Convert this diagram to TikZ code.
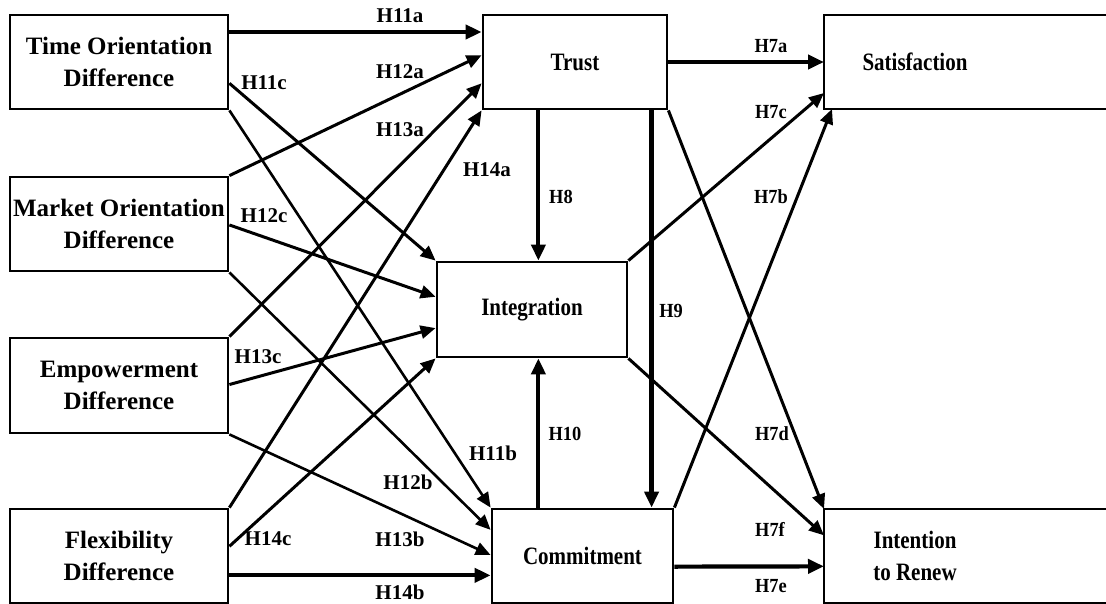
\documentclass[tikz,border=0pt]{standalone}
\usepackage{fontspec}
\setmainfont{Liberation Serif}
\newfontfamily\narrowserif{Liberation Serif}[FakeStretch=0.84]
\newfontfamily\labelserif{Liberation Serif}[FakeStretch=0.92]
\usetikzlibrary{arrows.meta,calc}

\tikzset{
  leftbox/.style={draw, line width=2.8pt, minimum width=218, minimum height=94,
    align=center, inner sep=0pt, outer sep=1.4pt,
    font=\fontsize{25}{32}\selectfont\bfseries},
  midbox/.style={draw, line width=2.8pt, minimum height=94,
    align=center, inner sep=0pt, outer sep=1.4pt,
    font=\fontsize{25}{32}\selectfont\narrowserif\bfseries},
  openbox/.style={draw=none, minimum width=182, minimum height=94,
    align=center, inner sep=0pt, outer sep=0pt,
    font=\fontsize{25}{32}\selectfont\narrowserif\bfseries},
  boxline/.style={line width=2.8pt},
  hypl/.style={inner sep=0pt, font=\fontsize{21}{21}\selectfont\bfseries},
  hypr/.style={inner sep=0pt, font=\fontsize{20}{20}\selectfont\labelserif\bfseries},
  heavy/.style={line width=4.2pt, -{Triangle[length=16pt,width=14pt]}},
  light/.style={line width=3pt, -{Triangle[length=15pt,width=13pt]}},
  lighter/.style={line width=2.6pt, -{Triangle[length=15pt,width=13pt]}}
}

\begin{document}
\begin{tikzpicture}[x=1pt,y=-1pt]
\useasboundingbox (0,0) rectangle (1106,603);

% constructs
\node[leftbox] (tod) at (119,62) {Time Orientation\\Difference};
\node[leftbox] (mod) at (119,224) {Market Orientation\\Difference};
\node[leftbox, minimum height=95] (emp) at (119,385.5) {Empowerment\\Difference};
\node[leftbox] (flex) at (119,556) {Flexibility\\Difference};
\node[midbox, minimum width=184] (trust) at (575,62) {Trust};
\node[midbox, minimum width=190, minimum height=95] (integ) at (532,309.5) {Integration};
\node[midbox, minimum width=181] (commit) at (582.5,556) {Commitment};
\node[openbox] (sat) at (915,62) {Satisfaction};
\node[openbox] (renew) at (915,556) {Intention\\to Renew};
\draw[boxline] ($(sat.north west)+(320,0)$) -- (sat.north west) -- (sat.south west) -- ++(320,0);
\draw[boxline] ($(renew.north west)+(320,0)$) -- (renew.north west) -- (renew.south west) -- ++(320,0);

% paths into Trust
\draw[heavy] ($(tod.north east)!0.19!(tod.south east)$) -- ($(trust.north west)!0.19!(trust.south west)$);
\draw[light] (mod.north east) -- ($(trust.north west)!0.43!(trust.south west)$);
\draw[light] (emp.north east) -- ($(trust.north west)!0.72!(trust.south west)$);
\draw[light] (flex.north east) -- (trust.south west);

% paths into Integration
\draw[light] ($(tod.north east)!0.72!(tod.south east)$) -- (integ.north west);
\draw[light] ($(mod.north east)!0.51!(mod.south east)$) -- ($(integ.north west)!0.37!(integ.south west)$);
\draw[light] ($(emp.north east)!0.49!(emp.south east)$) -- ($(integ.north west)!0.69!(integ.south west)$);
\draw[light] ($(flex.north east)!0.40!(flex.south east)$) -- (integ.south west);

% paths into Commitment
\draw[lighter] (tod.south east) -- (commit.north west);
\draw[lighter] (mod.south east) -- ($(commit.north west)!0.23!(commit.south west)$);
\draw[lighter] (emp.south east) -- ($(commit.north west)!0.49!(commit.south west)$);
\draw[heavy] ($(flex.north east)!0.70!(flex.south east)$) -- ($(commit.north west)!0.70!(commit.south west)$);

% links among the mediators
\coordinate (h8) at ($(trust.south west)!0.304!(trust.south east)$);
\coordinate (h9) at ($(trust.south west)!0.91!(trust.south east)$);
\coordinate (h10) at ($(commit.north west)!0.26!(commit.north east)$);
\draw[heavy] (h8) -- (h8 |- integ.north);
\draw[heavy] (h9) -- (h9 |- commit.north);
\draw[heavy] (h10) -- (h10 |- integ.south);

% outcomes
\draw[heavy] (trust.east) -- (sat.west);
\draw[light] (integ.north east) -- ($(sat.north west)!0.83!(sat.south west)$);
\draw[light] (commit.north east) -- ($(sat.south west)+(8,0)$);
\draw[light] (trust.south east) -- (renew.north west);
\draw[light] (integ.south east) -- ($(renew.north west)!0.28!(renew.south west)$);
\draw[heavy] ($(commit.north east)!0.61!(commit.south east)$) -- ($(renew.north west)!0.61!(renew.south west)$);

% hypothesis labels
\node[hypl] (l11a) at (400,16) {H11a};
\node[hypl] (l12a) at (400,72) {H12a};
\node[hypl] (l13a) at (400,130) {H13a};
\node[hypl] (l14a) at (487,170) {H14a};
\node[hypl] (l11c) at (264,83) {H11c};
\node[hypl] (l12c) at (264,216) {H12c};
\node[hypl] (l13c) at (258,357) {H13c};
\node[hypl] (l14c) at (268,539) {H14c};
\node[hypl] (l13b) at (400,539) {H13b};
\node[hypl] (l12b) at (408,482) {H12b};
\node[hypl] (l14b) at (400,592) {H14b};
\node[hypl] (l11b) at (493,453) {H11b};
\node[hypr] (l7a) at (771,46) {H7a};
\node[hypr] (l7c) at (771,112) {H7c};
\node[hypr] (l7b) at (771,197) {H7b};
\node[hypr] (l8) at (561,197) {H8};
\node[hypr] (l9) at (671,311) {H9};
\node[hypr] (l10) at (565,434) {H10};
\node[hypr] (l7d) at (772,434) {H7d};
\node[hypr] (l7f) at (770,529) {H7f};
\node[hypr] (l7e) at (771,586) {H7e};
\end{tikzpicture}
\end{document}
